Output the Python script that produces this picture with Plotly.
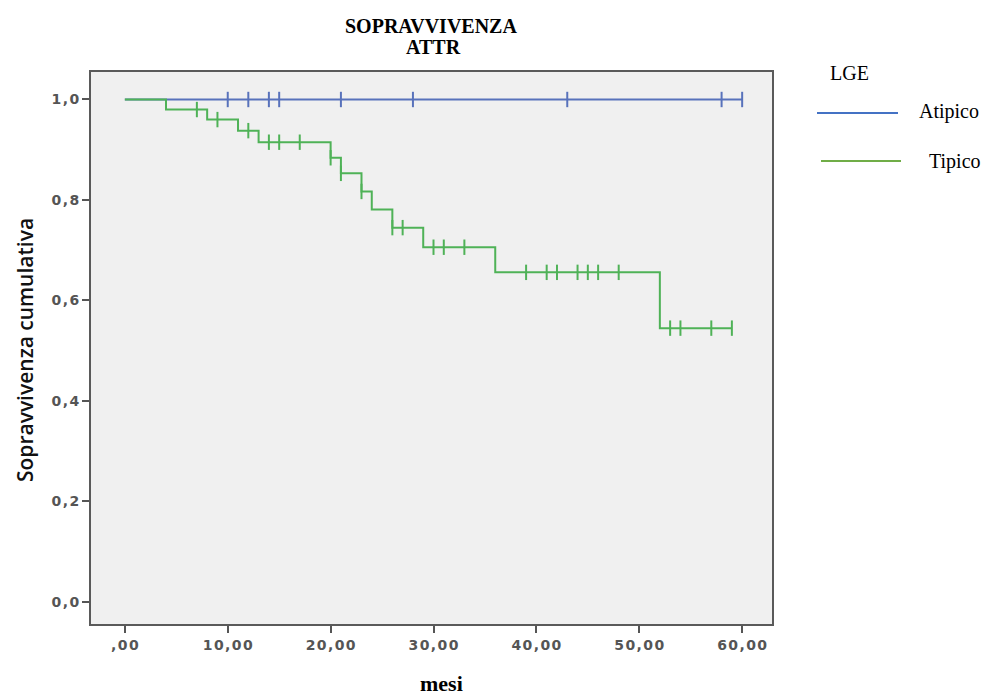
import plotly.graph_objects as go

# Kaplan-Meier curve, group "Tipico": step start times (months) and survival level
tipico_times = [0, 4, 8, 11, 13, 20, 21, 23, 24, 26, 29, 36, 52]
tipico_surv = [1.0, 0.980, 0.960, 0.938, 0.915, 0.884, 0.853, 0.817, 0.781, 0.745, 0.706, 0.656, 0.545]
tipico_end = 59
tipico_censored = [7, 9, 12, 14, 15, 17, 20, 21, 23, 26, 27, 30, 31, 33,
                   39, 41, 42, 44, 45, 46, 48, 53, 54, 57, 59]

# Group "Atipico": no events over follow-up
atipico_times = [0]
atipico_surv = [1.0]
atipico_end = 60
atipico_censored = [10, 12, 14, 15, 21, 28, 43, 58, 60]

x_ticks = [0, 10, 20, 30, 40, 50, 60]
x_ticktext = [",00", "10,00", "20,00", "30,00", "40,00", "50,00", "60,00"]
y_ticks = [0.0, 0.2, 0.4, 0.6, 0.8, 1.0]
y_ticktext = ["0,0", "0,2", "0,4", "0,6", "0,8", "1,0"]

BLUE = "#5872bb"
GREEN = "#4fb257"
W, H = 993, 696


def level_at(times, surv, t):
    val = surv[0]
    for ti, si in zip(times, surv):
        if ti <= t:
            val = si
    return val


def spaced(label):
    # slightly loose letter spacing for tick labels
    return "\u200a".join(label)


fig = go.Figure()

for name, times, surv, end, cens, col in [
    ("Atipico", atipico_times, atipico_surv, atipico_end, atipico_censored, BLUE),
    ("Tipico", tipico_times, tipico_surv, tipico_end, tipico_censored, GREEN),
]:
    fig.add_trace(go.Scatter(
        x=list(times) + [end], y=list(surv) + [surv[-1]], mode="lines", name=name,
        line=dict(color=col, width=2, shape="hv"),
        showlegend=False, hoverinfo="skip",
    ))
    fig.add_trace(go.Scatter(
        x=cens, y=[level_at(times, surv, c) for c in cens], mode="markers",
        marker=dict(symbol="line-ns", size=11, line=dict(color=col, width=2)),
        showlegend=False, hoverinfo="skip",
    ))

tick_font = dict(family="DejaVu Sans", size=14, color="#555555", weight="bold")

fig.update_layout(
    width=W, height=H,
    margin=dict(l=0, r=0, t=0, b=0),
    paper_bgcolor="white",
    plot_bgcolor="#f0f0f0",
    xaxis=dict(
        domain=[91 / W, 772 / W],
        range=[-3.29, 62.9], tickvals=x_ticks, ticktext=[spaced(t) for t in x_ticktext],
        ticks="outside", ticklen=7, tickwidth=2, tickcolor="#555",
        showgrid=False, zeroline=False,
        showline=True, linecolor="#5a5a5a", linewidth=2, mirror=True,
        tickfont=tick_font,
    ),
    yaxis=dict(
        domain=[72 / H, 624 / H],
        range=[-0.0438, 1.0547], tickvals=y_ticks, ticktext=[spaced(t) for t in y_ticktext],
        ticks="outside", ticklen=7, tickwidth=2, tickcolor="#555",
        showgrid=False, zeroline=False,
        showline=True, linecolor="#5a5a5a", linewidth=2, mirror=True,
        tickfont=tick_font,
    ),
)

serif = "Liberation Serif"


def add_text(text, x, y, size, family, angle=0, color="black", weight="normal"):
    fig.add_annotation(
        x=x / W, y=1 - y / H, xref="paper", yref="paper",
        xanchor="center", yanchor="middle", text=text, showarrow=False,
        textangle=angle, font=dict(family=family, size=size, color=color, weight=weight),
    )


add_text("SOPRAVVIVENZA", 431, 26, 20, serif, weight="bold")
add_text("ATTR", 433, 47, 20, serif, weight="bold")
add_text("mesi", 441, 683, 22, serif, weight="bold")
add_text("Sopravvivenza cumulativa", 25, 350, 21, "Open Sans", angle=-90,
         color="#111", weight=600)

# Legend block
add_text("LGE", 849, 73, 20, serif)
add_text("Atipico", 949, 111, 20, serif)
add_text("Tipico", 955, 162, 20, serif)
fig.add_shape(type="line", xref="paper", yref="paper",
              x0=817 / W, x1=898 / W, y0=1 - 113 / H, y1=1 - 113 / H,
              line=dict(color="#4472c4", width=2))
fig.add_shape(type="line", xref="paper", yref="paper",
              x0=821 / W, x1=901 / W, y0=1 - 161 / H, y1=1 - 161 / H,
              line=dict(color="#70ad47", width=2))

fig.write_html("out.html")
